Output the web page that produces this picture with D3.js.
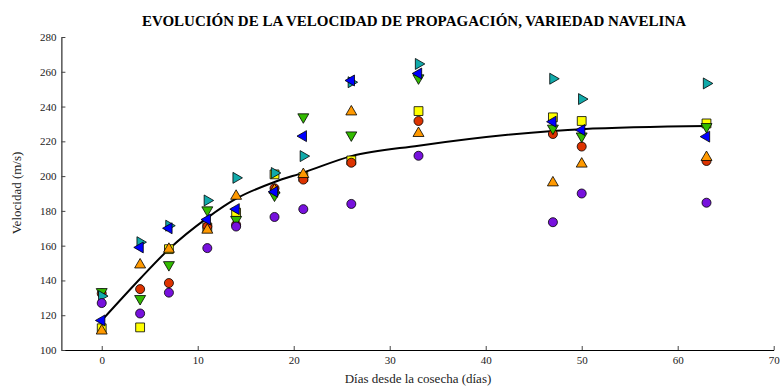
<!DOCTYPE html>
<html><head><meta charset="utf-8">
<script src="https://cdn.jsdelivr.net/npm/d3@7"></script>
<style>body{margin:0;background:#fff}svg{display:block}</style>
</head><body><svg id="c" width="782" height="387"></svg>
<script>
const days = [0, 4, 7, 11, 14, 18, 21, 26, 33, 47, 50, 63];
const yellowSquare = [112.5, 113, 158, 170.5, 179, 201, 199.5, 209, 237.4, 233.8, 231.7, 230.3];
const redCircle    = [132.5, 135, 138.5, 171, 172, 193, 198, 207.7, 231.7, 224.2, 217, 208.7];
const orangeUp     = [111, 149, 158, 169, 188.5, 192, 201, 237, 224.6, 196.2, 207, 210.8];
const greenDown    = [133.5, 129.5, 149, 180.5, 175, 189, 234, 223.6, 256.4, 227.5, 223, 228.4];
const cyanRight    = [131, 162, 171.5, 186, 199, 201.8, 211.5, 254, 264.5, 256, 244.3, 253.3];
const blueLeft     = [117, 159, 170, 175, 181, 191, 223, 255, 259, 231.3, 226.5, 222.7];
const purpleCircle = [127, 121, 133, 158.6, 171, 176.5, 181, 184, 211.7, 173.5, 190, 184.7];
const fitLine      = [117, 141, 158, 176, 187, 196.6, 202, 211.5, 217.5, 226, 227, 228.8];
const xTicks = [0, 10, 20, 30, 40, 50, 60, 70];
const yTicks = [100, 120, 140, 160, 180, 200, 220, 240, 260, 280];

const svg = d3.select("#c");
const x = d3.scaleLinear().domain([-4.2, 70]).range([61.4, 773.7]);
const y = d3.scaleLinear().domain([100, 280]).range([350, 37]);
const font = "'Liberation Serif','Times New Roman',serif";

// axes
const xa = svg.append("g").attr("transform","translate(0,350)")
  .call(d3.axisBottom(x).tickValues(xTicks).tickSize(-4).tickPadding(6).tickSizeOuter(0));
const ya = svg.append("g").attr("transform","translate(61.4,0)")
  .call(d3.axisLeft(y).tickValues(yTicks).tickSize(-4).tickPadding(5).tickSizeOuter(0));
[xa, ya].forEach(a => {
  a.select(".domain").attr("stroke","#000").attr("stroke-width",1);
  a.selectAll(".tick line").attr("stroke","#444");
  a.selectAll("text").attr("font-family",font).attr("font-size",11).attr("fill","#222");
});
xa.selectAll("text").attr("dy","0.71em");

// fit line
svg.append("path").datum(days.map((d,i)=>[d, fitLine[i]]))
  .attr("fill","none").attr("stroke","#000").attr("stroke-width",2)
  .attr("d", d3.line().x(d=>x(d[0])).y(d=>y(d[1])).curve(d3.curveMonotoneX));

const series = [
  {v: yellowSquare, color:"#ffff00", type:d3.symbolSquare, size:78, rot:0},
  {v: redCircle, color:"#dd3300", type:d3.symbolCircle, size:64, rot:0},
  {v: orangeUp, color:"#ff9900", type:d3.symbolTriangle, size:52, rot:0},
  {v: greenDown, color:"#33bb00", type:d3.symbolTriangle, size:52, rot:180},
  {v: cyanRight, color:"#11aaaa", type:d3.symbolTriangle, size:52, rot:90},
  {v: blueLeft, color:"#0000ff", type:d3.symbolTriangle, size:52, rot:-90},
  {v: purpleCircle, color:"#7711dd", type:d3.symbolCircle, size:64, rot:0}
];
series.forEach(s => {
  const sym = d3.symbol().type(s.type).size(s.size)();
  svg.append("g").selectAll("path").data(days.map((d,i)=>[d, s.v[i]])).join("path")
    .attr("d", sym)
    .attr("transform", d=>`translate(${x(d[0])},${y(d[1])}) rotate(${s.rot})`)
    .attr("fill", s.color).attr("stroke","#000").attr("stroke-width",0.8);
});

// texts
svg.append("text").attr("x",414).attr("y",26).attr("text-anchor","middle")
  .attr("font-family",font).attr("font-weight","bold").attr("font-size",15)
  .text("EVOLUCIÓN DE LA VELOCIDAD DE PROPAGACIÓN, VARIEDAD NAVELINA");
svg.append("text").attr("x",418).attr("y",383).attr("text-anchor","middle")
  .attr("font-family",font).attr("font-size",13).attr("fill","#222")
  .text("Días desde la cosecha (días)");
svg.append("text").attr("transform","translate(21,193) rotate(-90)").attr("text-anchor","middle")
  .attr("font-family",font).attr("font-size",13).attr("fill","#222")
  .text("Velocidad (m/s)");
</script></body></html>
